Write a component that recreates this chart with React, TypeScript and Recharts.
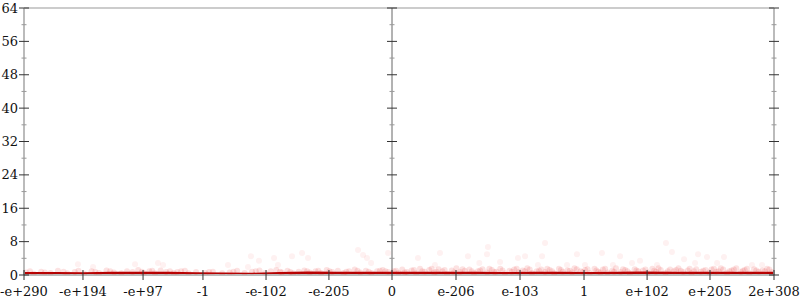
import React from 'react';
import { ComposedChart, XAxis, YAxis, Line, Scatter, ReferenceLine } from 'recharts';

// x is the signed biased exponent of a double (bit-pattern order), y is the error value
const xDomain = [-1972, 2047];
const xTickValues = [-1972, -1656, -1334, -1013, -675, -338, 0, 343, 686, 1029, 1367, 1704, 2047];
const xTickLabels = ['-e+290', '-e+194', '-e+97', '-1', '-e-102', '-e-205', '0', 'e-206', 'e-103', '1', 'e+102', 'e+205', '2e+308'];

const yMax = 64;
const yTicks = [0, 4, 8, 12, 16, 20, 24, 28, 32, 36, 40, 44, 48, 52, 56, 60, 64];

const lineX = [-1972, -1800, -1650, -1500, -1350, -1200, -1050, -900, -750, -600, -450, -300, -150, 0, 150, 300, 450, 600, 750, 900, 1050, 1200, 1350, 1500, 1650, 1800, 1950, 2047];
const lineY = [0.4, 0.4, 0.35, 0.45, 0.5, 0.45, 0.35, 0.3, 0.25, 0.4, 0.55, 0.5, 0.45, 0.5, 0.45, 0.5, 0.45, 0.4, 0.45, 0.5, 0.4, 0.45, 0.55, 0.5, 0.45, 0.5, 0.5, 0.5];

const bandLeft: [number, number][] = [
  [-1960, 0.6], [-1920, 0.3], [-1880, 0.8], [-1830, 0.5], [-1790, 1.0], [-1740, 0.4], [-1700, 0.7], [-1650, 0.3],
  [-1610, 0.9], [-1570, 0.5], [-1530, 1.1], [-1490, 0.6], [-1450, 0.4], [-1420, 0.9], [-1390, 0.7], [-1360, 1.2],
  [-1330, 0.5], [-1300, 0.9], [-1270, 0.4], [-1240, 1.1], [-1210, 0.7], [-1170, 0.5], [-1130, 0.9], [-1090, 0.4],
  [-1050, 0.7], [-1000, 0.5], [-960, 0.8], [-910, 0.4], [-870, 0.6], [-830, 1.0], [-790, 0.5], [-750, 0.8],
  [-710, 1.1], [-680, 0.5], [-650, 0.9], [-620, 1.2], [-590, 0.6], [-560, 1.0], [-530, 0.4], [-500, 0.8],
  [-470, 1.1], [-440, 0.6], [-410, 0.9], [-380, 0.5], [-350, 1.2], [-320, 0.7], [-290, 1.0], [-260, 0.5],
  [-230, 0.9], [-200, 1.3], [-170, 0.6], [-140, 1.0], [-110, 0.5], [-80, 0.9], [-50, 1.2], [-20, 0.7],
  [-1940, 0.9], [-1860, 0.6], [-1760, 0.8], [-1680, 1.0], [-1590, 0.7], [-1510, 0.9], [-1340, 0.8], [-1285, 1.0],
  [-1190, 0.9], [-1150, 0.7], [-1110, 1.0], [-980, 0.7], [-850, 0.8], [-730, 0.9], [-600, 0.8], [-545, 0.7],
  [-455, 0.9], [-395, 1.0], [-335, 0.9], [-245, 0.8], [-185, 1.0], [-125, 0.8], [-65, 1.0], [-35, 0.9],
];

const bandRight: [number, number][] = [
  [10, 0.9], [35, 0.5], [55, 1.3], [80, 0.7], [105, 1.1], [130, 0.4], [150, 1.5], [175, 0.8], [200, 1.2], [225, 0.6],
  [250, 1.4], [270, 0.9], [295, 0.3], [320, 1.1], [345, 1.6], [365, 0.7], [390, 1.0], [415, 1.3], [440, 0.5], [460, 0.9],
  [485, 1.4], [510, 0.6], [535, 1.2], [560, 0.8], [580, 1.5], [605, 0.4], [630, 1.0], [655, 1.3], [680, 0.7], [700, 1.1],
  [725, 1.6], [750, 0.5], [775, 0.9], [800, 1.3], [820, 0.7], [845, 1.2], [870, 0.4], [895, 1.5], [915, 0.8], [940, 1.1],
  [965, 0.6], [990, 1.4], [1010, 0.9], [1035, 1.2], [1060, 0.5], [1085, 1.5], [1105, 0.8], [1130, 1.3], [1155, 0.6], [1180, 1.0],
  [1200, 1.6], [1225, 0.7], [1250, 1.2], [1275, 0.4], [1300, 1.4], [1320, 0.9], [1345, 1.1], [1370, 0.6], [1395, 1.5], [1415, 0.8],
  [1440, 1.2], [1465, 0.5], [1490, 1.3], [1510, 0.9], [1535, 1.6], [1560, 0.7], [1585, 1.1], [1605, 0.4], [1630, 1.4], [1655, 0.8],
  [1680, 1.2], [1700, 0.6], [1725, 1.5], [1750, 0.9], [1775, 1.3], [1795, 0.5], [1820, 1.1], [1845, 1.6], [1870, 0.7], [1890, 1.2],
  [1915, 0.4], [1940, 1.4], [1965, 0.8], [1985, 1.1], [2010, 1.5], [2035, 0.7],
  [22, 1.0], [68, 0.6], [118, 1.2], [162, 0.9], [212, 1.5], [238, 0.8], [282, 1.2], [332, 0.6], [378, 1.4], [428, 0.9],
  [472, 1.1], [522, 1.5], [548, 0.7], [592, 1.1], [642, 0.8], [668, 1.5], [712, 0.9], [738, 1.3], [788, 1.0], [832, 1.5],
  [858, 0.9], [905, 1.2], [952, 1.0], [978, 1.6], [1022, 0.7], [1048, 1.4], [1095, 1.1], [1118, 0.6], [1142, 1.5], [1190, 0.8],
  [1238, 1.4], [1262, 0.9], [1310, 1.1], [1358, 1.3], [1405, 1.0], [1428, 1.6], [1478, 0.9], [1522, 1.2], [1548, 1.0], [1595, 1.5],
  [1618, 0.9], [1668, 1.0], [1712, 1.3], [1738, 0.8], [1762, 1.6], [1808, 0.9], [1832, 1.3], [1880, 1.0], [1902, 1.5], [1952, 1.1],
  [1998, 0.9], [2022, 1.3],
];

const outliers: [number, number][] = [
  [-1683, 2.6], [-1602, 1.9], [-1377, 2.6], [-1254, 2.9], [-1227, 2.4], [-879, 2.4], [-772, 1.9], [-756, 4.5],
  [-713, 3.4], [-632, 4.1], [-611, 2.4], [-536, 4.5], [-482, 5.3], [-450, 4.1], [-182, 6.0], [-155, 4.8],
  [-134, 4.1], [-112, 2.9], [-21, 5.3], [139, 4.1], [230, 2.4], [257, 5.3], [407, 4.5], [468, 2.9],
  [509, 5.0], [514, 6.7], [579, 3.1], [675, 4.1], [713, 4.5], [782, 2.4], [804, 4.5], [820, 7.7],
  [938, 2.4], [991, 5.0], [1034, 2.4], [1125, 5.3], [1184, 2.4], [1222, 4.5], [1286, 2.9], [1329, 3.4],
  [1420, 2.4], [1468, 7.7], [1500, 5.5], [1565, 3.8], [1624, 2.9], [1640, 5.0], [1688, 4.3], [1742, 2.9],
  [1779, 4.3], [1929, 2.4], [1983, 2.4],
];

const lineData = lineX.map((x, i) => ({ x, y: lineY[i] }));
const bandData = [...bandLeft, ...bandRight].map(([x, y]) => ({ x, y }));
const outlierData = outliers.map(([x, y]) => ({ x, y }));

const font = { fontFamily: '"DejaVu Serif", serif', fontSize: 13, fill: '#111' };
const isMajor = (v: number) => v % 8 === 0;

const LeftTick = ({ x, y, payload }: any) => {
  const major = isMajor(payload.value);
  const h = major ? 5 : 2.5;
  return (
    <g>
      <line x1={x - h} x2={x + h} y1={y} y2={y} stroke={major ? '#333' : '#999'} />
      {major && <text x={x - 6} y={y} dy="0.35em" textAnchor="end" {...font}>{payload.value}</text>}
    </g>
  );
};

const RightTick = ({ x, y, payload }: any) => {
  const major = isMajor(payload.value);
  const h = major ? 5 : 2.5;
  return <line x1={x - h} x2={x + h} y1={y} y2={y} stroke={major ? '#333' : '#999'} />;
};

const BottomTick = ({ x, y, payload }: any) => {
  const label = xTickLabels[xTickValues.indexOf(payload.value)];
  return (
    <g>
      <line x1={x} x2={x} y1={y - 5} y2={y + 5} stroke="#333" />
      <text x={x} y={y + 21} textAnchor="middle" {...font}>{label}</text>
    </g>
  );
};

// the centre axis at x = 0 with its own crossing ticks
const MidAxis = (props: any) => {
  const { x1, y1, x2, y2 } = props;
  const top = Math.min(y1, y2);
  const bottom = Math.max(y1, y2);
  return (
    <g>
      <line x1={x1} x2={x2} y1={top} y2={bottom} stroke="#666" />
      {yTicks.map((v) => {
        const yy = bottom - (v / yMax) * (bottom - top);
        const h = isMajor(v) ? 5 : 2.5;
        return <line key={v} x1={x1 - h} x2={x1 + h} y1={yy} y2={yy} stroke={isMajor(v) ? '#333' : '#999'} />;
      })}
    </g>
  );
};

const BandDot = (p: any) => <circle cx={p.cx} cy={p.cy} r={3} fill="#e81010" fillOpacity={0.12} />;
const FaintDot = (p: any) => <circle cx={p.cx} cy={p.cy} r={3} fill="#e81010" fillOpacity={0.06} />;

export default function App() {
  return (
    <div style={{ position: 'absolute', left: 0, top: 0 }}>
      <ComposedChart width={800} height={300} margin={{ top: 8, right: 0, bottom: 0, left: 0 }}>
        <XAxis
          type="number" dataKey="x" domain={xDomain} allowDataOverflow ticks={xTickValues} interval={0}
          height={25} tickSize={0} tickMargin={0} tick={<BottomTick />} axisLine={{ stroke: '#bbb', strokeWidth: 2 }}
        />
        <YAxis
          yAxisId="left" type="number" dataKey="y" domain={[0, yMax]} allowDataOverflow ticks={yTicks} interval={0}
          width={24} tickSize={0} tickMargin={0} tick={<LeftTick />} axisLine={{ stroke: '#bbb', strokeWidth: 2 }}
        />
        <YAxis
          yAxisId="right" orientation="right" type="number" domain={[0, yMax]} allowDataOverflow ticks={yTicks} interval={0}
          width={26} tickSize={0} tickMargin={0} tick={<RightTick />} axisLine={{ stroke: '#bbb', strokeWidth: 2 }}
        />
        <ReferenceLine yAxisId="left" y={yMax} stroke="#bbb" strokeWidth={1.5} />
        <ReferenceLine yAxisId="left" x={0} shape={<MidAxis />} />
        <Scatter yAxisId="left" data={outlierData} dataKey="y" shape={<FaintDot />} isAnimationActive={false} />
        <Scatter yAxisId="left" data={bandData} dataKey="y" shape={<BandDot />} isAnimationActive={false} />
        <Line
          yAxisId="left" data={lineData} dataKey="y" type="linear" stroke="#b00000" strokeWidth={2.5}
          dot={false} activeDot={false} isAnimationActive={false}
        />
      </ComposedChart>
    </div>
  );
}
